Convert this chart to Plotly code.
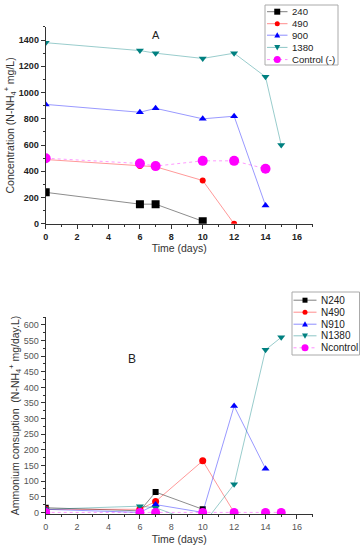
import plotly.graph_objects as go

# ---- Panel A data ----
a_names = ["240", "490", "900", "1380", "Control (-)"]
a_x_240 = [0, 6, 7, 10]
a_y_240 = [240, 150, 150, 20]
a_x_490 = [0, 6, 7, 10, 12]
a_y_490 = [490, 440, 435, 330, 0]
a_x_900 = [0, 6, 7, 10, 12, 14]
a_y_900 = [910, 850, 880, 800, 820, 140]
a_x_1380 = [0, 6, 7, 10, 12, 14, 15]
a_y_1380 = [1380, 1320, 1300, 1260, 1300, 1120, 600]
a_x_ctrl = [0, 6, 7, 10, 12, 14]
a_y_ctrl = [500, 460, 440, 480, 480, 420]

# ---- Panel B data ----
b_names = ["N240", "N490", "N910", "N1380", "Ncontrol"]
b_x_240 = [0, 6, 7, 10]
b_y_240 = [15, 5, 65, 10]
b_x_490 = [0, 6, 7, 10, 12]
b_y_490 = [10, 10, 35, 165, 0]
b_x_910 = [0, 6, 7, 10, 12, 14]
b_y_910 = [10, 0, 25, 0, 340, 140]
b_x_1380 = [0, 6, 7, 10, 12, 14, 15]
b_y_1380 = [10, 20, 15, -40, 90, 520, 560]
b_x_ctrl = [0, 6, 7, 10, 12, 14, 15]
b_y_ctrl = [0, 0, 0, 0, 0, 0, 0]

W, H = 361, 550

COLORS = ["#000000", "#ff0000", "#0000ff", "#008080", "#ff00ff"]
LINE_COLORS = ["rgba(0,0,0,0.5)", "rgba(255,0,0,0.45)", "rgba(0,0,255,0.45)",
               "rgba(0,128,128,0.45)", "rgba(255,0,255,0.45)"]
SYMBOLS = ["square", "circle", "triangle-up", "triangle-down", "circle"]
DASHES = ["solid", "solid", "solid", "solid", "dot"]

fig = go.Figure()

def add(x, y, i, size, xa, ya):
    fig.add_trace(go.Scatter(
        x=x, y=y, mode="lines+markers", showlegend=False,
        line=dict(color=LINE_COLORS[i], width=0.9, dash=DASHES[i]),
        marker=dict(color=COLORS[i], symbol=SYMBOLS[i], size=size),
        xaxis=xa, yaxis=ya,
    ))

a_sets = [(a_x_240, a_y_240), (a_x_490, a_y_490), (a_x_900, a_y_900),
          (a_x_1380, a_y_1380), (a_x_ctrl, a_y_ctrl)]
a_sizes = [8, 6, 7, 7, 10]
for i, (x, y) in enumerate(a_sets):
    add(x, y, i, a_sizes[i], "x", "y")

b_sets = [(b_x_240, b_y_240), (b_x_490, b_y_490), (b_x_910, b_y_910),
          (b_x_1380, b_y_1380), (b_x_ctrl, b_y_ctrl)]
b_sizes = [6, 7, 7, 7, 9]
for i, (x, y) in enumerate(b_sets):
    add(x, y, i, b_sizes[i], "x2", "y2")

# ---- hand-drawn compact legends (Origin style) ----
shapes = []
annotations = []

def px(x):
    return x / W

def py(y):
    return 1 - y / H

def legend_box(x0, y0, x1, y1, names, rows, lx0, lx1, tx, msize, fsize):
    shapes.append(dict(type="rect", xref="paper", yref="paper",
                       x0=px(x0), x1=px(x1), y0=py(y1), y1=py(y0),
                       line=dict(color="#aaaaaa", width=1), fillcolor="white",
                       layer="above"))
    mx = (lx0 + lx1) / 2
    for i, (name, ry) in enumerate(zip(names, rows)):
        shapes.append(dict(type="line", xref="paper", yref="paper",
                           x0=px(lx0), x1=px(lx1), y0=py(ry), y1=py(ry),
                           line=dict(color=LINE_COLORS[i], width=1,
                                     dash="dot" if DASHES[i] == "dot" else "solid"),
                           layer="above"))
        s = msize[i] / 2
        sym = SYMBOLS[i]
        if sym == "square":
            shapes.append(dict(type="rect", xref="paper", yref="paper",
                               x0=px(mx - s), x1=px(mx + s), y0=py(ry + s), y1=py(ry - s),
                               fillcolor=COLORS[i], line=dict(width=0), layer="above"))
        elif sym == "circle":
            shapes.append(dict(type="circle", xref="paper", yref="paper",
                               x0=px(mx - s), x1=px(mx + s), y0=py(ry + s), y1=py(ry - s),
                               fillcolor=COLORS[i], line=dict(width=0), layer="above"))
        elif sym == "triangle-up":
            path = "M {} {} L {} {} L {} {} Z".format(
                px(mx - s), py(ry + s * 0.8), px(mx + s), py(ry + s * 0.8), px(mx), py(ry - s))
            shapes.append(dict(type="path", xref="paper", yref="paper", path=path,
                               fillcolor=COLORS[i], line=dict(width=0), layer="above"))
        else:
            path = "M {} {} L {} {} L {} {} Z".format(
                px(mx - s), py(ry - s * 0.8), px(mx + s), py(ry - s * 0.8), px(mx), py(ry + s))
            shapes.append(dict(type="path", xref="paper", yref="paper", path=path,
                               fillcolor=COLORS[i], line=dict(width=0), layer="above"))
        annotations.append(dict(text=name, xref="paper", yref="paper",
                                x=px(tx), y=py(ry), xanchor="left", yanchor="middle",
                                showarrow=False,
                                font=dict(family="Liberation Sans", size=fsize, color="#222222")))

legend_box(265, 5, 338, 65, a_names, [11.7, 23.7, 35.2, 47.4, 59.6],
           267, 287.5, 289.5, [6, 5, 6, 6, 7], 9.6)
legend_box(292, 292, 359.5, 355, b_names, [300.2, 312.2, 324.2, 335.8, 347.8],
           293.5, 316.5, 318.5, [5, 5, 6, 6, 7], 10)

annotations += [
    dict(text="A", x=7, y=1440, xref="x", yref="y", showarrow=False,
         font=dict(family="Liberation Sans", size=11, color="#222222")),
    dict(text="B", x=5.5, y=490, xref="x2", yref="y2", showarrow=False,
         font=dict(family="Liberation Sans", size=12, color="#222222")),
]

titlefont = dict(family="Liberation Sans", size=10.5, color="#333333")
tickfont_a = dict(family="Liberation Sans", size=9, color="#222222", weight="bold")
tickfont_b = dict(family="Liberation Sans", size=9, color="#555555")

xcommon = dict(range=[0, 17], dtick=2, ticks="outside", ticklen=4, tickwidth=1,
               showline=True, linecolor="#333333", linewidth=1, showgrid=False,
               zeroline=False, mirror=False, automargin=False,
               minor=dict(dtick=1, ticks="outside", ticklen=2, tickcolor="#333333"),
               tickcolor="#333333", domain=[0.1266, 0.866])
ycommon = dict(ticks="outside", ticklen=4, showline=True, linecolor="#333333",
               linewidth=1, tickcolor="#333333", showgrid=False, zeroline=False,
               automargin=False)

fig.update_layout(
    width=W, height=H,
    margin=dict(l=0, r=0, t=0, b=0, autoexpand=False),
    paper_bgcolor="white", plot_bgcolor="white",
    font=dict(family="Liberation Sans"),
    showlegend=False,
    xaxis=dict(**xcommon, anchor="y", tickfont=tickfont_a,
               title=dict(text="Time (days)", font=titlefont, standoff=1)),
    yaxis=dict(**ycommon, domain=[0.593, 0.951], anchor="x", range=[0, 1500], dtick=200,
               minor=dict(dtick=100, ticks="outside", ticklen=2, tickcolor="#333333"),
               tickfont=tickfont_a,
               title=dict(text="Concentration (N-NH<sub>4</sub><sup>+</sup> mg/L)",
                          font=titlefont, standoff=2)),
    xaxis2=dict(**xcommon, anchor="y2", tickfont=tickfont_b,
                title=dict(text="Time (days)", font=titlefont, standoff=4)),
    yaxis2=dict(**ycommon, domain=[0.0655, 0.4236], anchor="x2", range=[-5, 625],
                dtick=50, tick0=0,
                minor=dict(dtick=25, ticks="outside", ticklen=2, tickcolor="#333333"),
                tickfont=tickfont_b,
                title=dict(text="Ammonium consuption  (N-NH<sub>4</sub><sup>+</sup> mg/day.L)",
                           font=titlefont, standoff=2)),
    shapes=shapes,
    annotations=annotations,
)

fig.write_html("out.html", config={"displayModeBar": False},
               post_script="document.body.style.margin='0px';document.body.style.overflow='hidden';")
